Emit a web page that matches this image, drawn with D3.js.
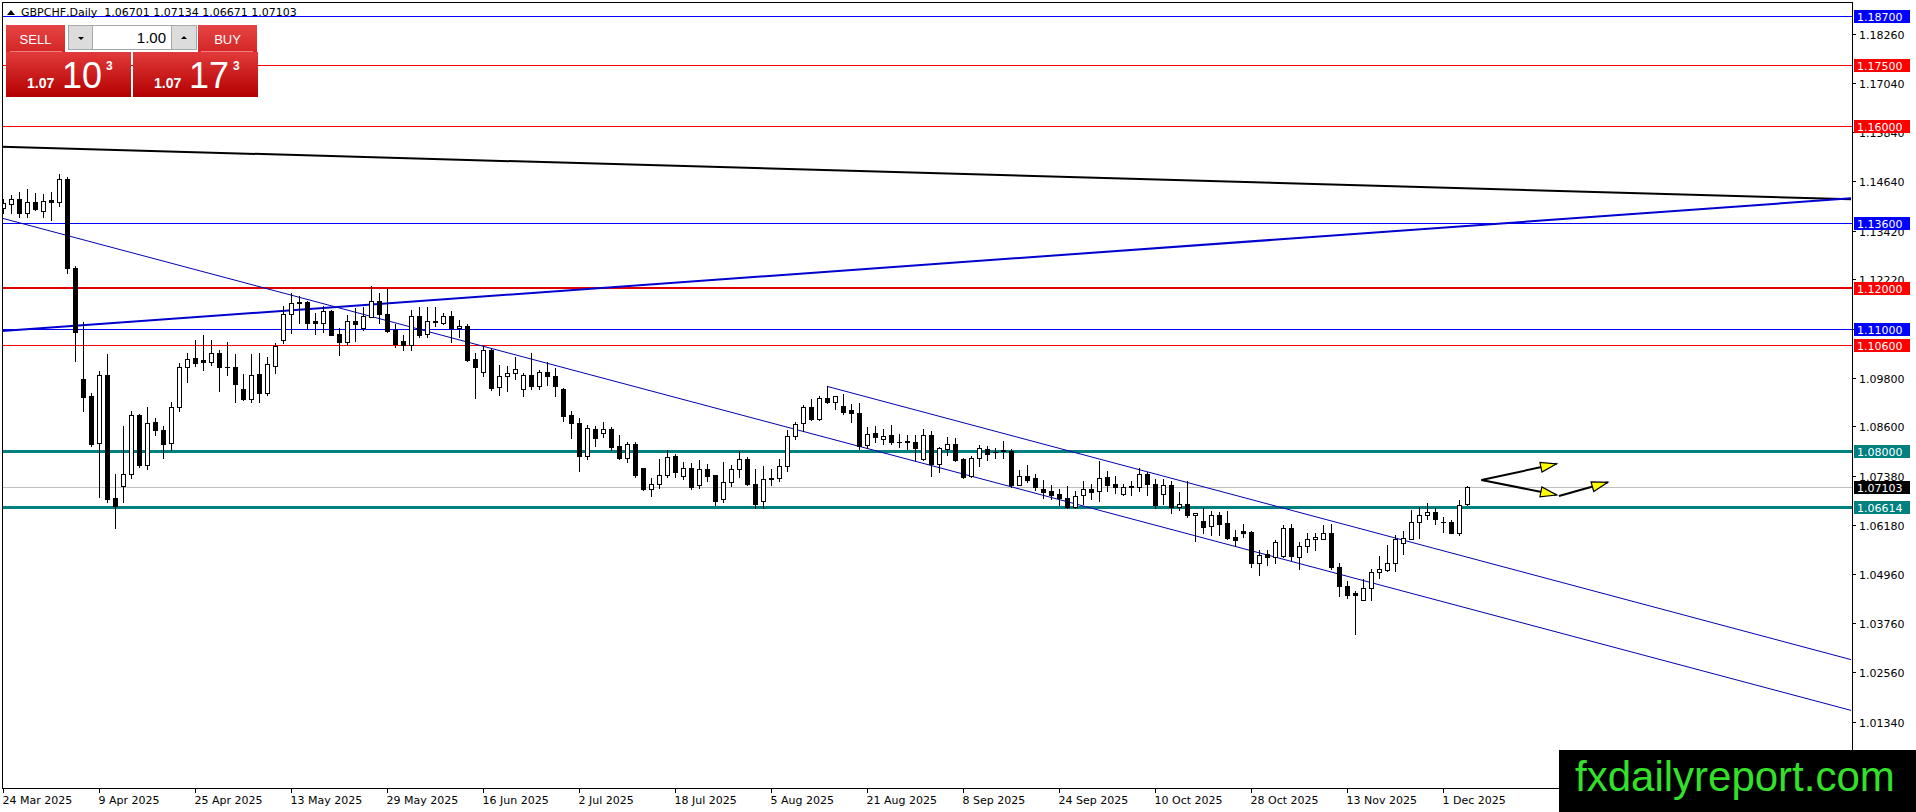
<!DOCTYPE html>
<html><head><meta charset="utf-8">
<script src="https://cdn.jsdelivr.net/npm/d3@7"></script>
<style>html,body{margin:0;padding:0;background:#fff;overflow:hidden}svg{display:block}</style>
</head><body>
<svg id="c" width="1916" height="812"></svg>
<script>
// ---------------- DATA ----------------
const symbolTitle = "GBPCHF,Daily";
const startDate = "2025-03-24";
const opens = [1.1398,1.1407,1.1419,1.1385,1.1413,1.1391,1.1417,1.1413,1.1468,1.1249,
1.0976,1.0935,1.0819,1.0987,1.0683,1.0714,1.0742,1.0887,1.0764,1.0870,
1.0851,1.0819,1.0909,1.1006,1.1028,1.1024,1.1018,1.1040,1.1007,1.1007,
1.0953,1.0927,1.0988,1.0943,1.1010,1.1073,1.1137,1.1166,1.1166,1.1119,
1.1114,1.1144,1.1088,1.1069,1.1120,1.1102,1.1130,1.1168,1.1137,1.1097,
1.1070,1.1061,1.1132,1.1088,1.1120,1.1114,1.1132,1.1102,1.1106,1.1026,
1.0995,1.1047,1.0956,1.0984,1.0991,1.0951,1.0986,1.0960,1.0993,1.0983,
1.0953,1.0888,1.0868,1.0788,1.0853,1.0844,1.0853,1.0811,1.0783,1.0818,
1.0757,1.0705,1.0719,1.0740,1.0787,1.0737,1.0759,1.0715,1.0755,1.0740,
1.0681,1.0724,1.0755,1.0780,1.0719,1.0676,1.0730,1.0732,1.0762,1.0837,
1.0868,1.0907,1.0879,1.0929,1.0919,1.0910,1.0900,1.0892,1.0815,1.0843,
1.0829,1.0838,1.0822,1.0823,1.0822,1.0779,1.0838,1.0768,1.0804,1.0817,
1.0779,1.0737,1.0782,1.0804,1.0798,1.0801,1.0800,1.0717,1.0739,1.0733,
1.0707,1.0700,1.0694,1.0685,1.0661,1.0692,1.0705,1.0701,1.0736,1.0719,
1.0694,1.0713,1.0711,1.0744,1.0719,1.0694,1.0716,1.0661,1.0670,1.0642,
1.0627,1.0615,1.0641,1.0623,1.0588,1.0602,1.0600,1.0524,1.0545,1.0538,
1.0542,1.0611,1.0540,1.0565,1.0582,1.0584,1.0599,1.0515,1.0467,1.0450,
1.0433,1.0463,1.0502,1.0507,1.0524,1.0574,1.0584,1.0626,1.0642,1.0649,
1.0626,1.0626,1.0599,1.06701];
const highs = [1.1420,1.1430,1.1438,1.1444,1.1435,1.1432,1.1438,1.1481,1.1473,1.1255,
1.1118,1.0942,1.0997,1.1038,1.0743,1.0861,1.0899,1.0890,1.0907,1.0882,
1.0862,1.0921,1.1015,1.1040,1.1073,1.1085,1.1073,1.1048,1.1069,1.1038,
1.0989,1.1038,1.1040,1.1030,1.1066,1.1156,1.1188,1.1181,1.1168,1.1140,
1.1156,1.1147,1.1102,1.1134,1.1151,1.1155,1.1206,1.1189,1.1199,1.1112,
1.1085,1.1147,1.1153,1.1153,1.1153,1.1138,1.1143,1.1122,1.1112,1.1040,
1.1058,1.1052,1.1011,1.1009,1.1032,1.0992,1.1041,1.1000,1.1018,1.1005,
1.0954,1.0897,1.0880,1.0864,1.0861,1.0872,1.0859,1.0838,1.0822,1.0822,
1.0759,1.0734,1.0780,1.0803,1.0793,1.0772,1.0769,1.0778,1.0767,1.0741,
1.0772,1.0766,1.0799,1.0784,1.0755,1.0763,1.0755,1.0780,1.0851,1.0872,
1.0913,1.0927,1.0935,1.0959,1.0936,1.0939,1.0915,1.0917,1.0859,1.0860,
1.0854,1.0863,1.0842,1.0838,1.0838,1.0854,1.0848,1.0810,1.0835,1.0832,
1.0782,1.0788,1.0815,1.0813,1.0807,1.0825,1.0804,1.0754,1.0764,1.0743,
1.0729,1.0715,1.0707,1.0713,1.0701,1.0726,1.0719,1.0776,1.0751,1.0738,
1.0719,1.0726,1.0757,1.0747,1.0730,1.0730,1.0727,1.0699,1.0727,1.0648,
1.0659,1.0651,1.0649,1.0651,1.0605,1.0619,1.0602,1.0557,1.0555,1.0580,
1.0617,1.0621,1.0575,1.0599,1.0599,1.0617,1.0621,1.0525,1.0479,1.0454,
1.0485,1.0510,1.0542,1.0569,1.0592,1.0602,1.0655,1.0661,1.0671,1.0659,
1.0636,1.0630,1.0680,1.07134];
const lows = [1.1385,1.1385,1.1376,1.1375,1.1393,1.1375,1.1368,1.1403,1.1237,1.1020,
1.0899,1.0812,1.0687,1.0675,1.0611,1.0675,1.0732,1.0760,1.0755,1.0839,
1.0782,1.0802,1.0899,1.0970,1.1009,1.0999,1.1011,1.0948,1.0987,1.0919,
1.0924,1.0919,1.0919,1.0937,1.0992,1.1065,1.1089,1.1114,1.1099,1.1088,
1.1093,1.1084,1.1036,1.1061,1.1071,1.1097,1.1129,1.1115,1.1093,1.1056,
1.1047,1.1047,1.1081,1.1081,1.1106,1.1112,1.1069,1.1079,1.1022,1.0929,
1.0983,1.0950,1.0937,1.0948,1.0978,1.0935,1.0953,1.0951,1.0961,1.0936,
1.0874,1.0832,1.0751,1.0780,1.0811,1.0834,1.0801,1.0780,1.0772,1.0736,
1.0704,1.0688,1.0709,1.0736,1.0736,1.0730,1.0707,1.0709,1.0726,1.0667,
1.0674,1.0713,1.0736,1.0716,1.0659,1.0659,1.0717,1.0726,1.0751,1.0830,
1.0850,1.0875,1.0877,1.0917,1.0904,1.0890,1.0871,1.0804,1.0807,1.0821,
1.0818,1.0818,1.0810,1.0804,1.0777,1.0777,1.0737,1.0748,1.0790,1.0776,
1.0733,1.0735,1.0762,1.0777,1.0783,1.0783,1.0712,1.0715,1.0723,1.0704,
1.0685,1.0681,1.0666,1.0659,1.0659,1.0669,1.0682,1.0676,1.0701,1.0697,
1.0691,1.0691,1.0702,1.0692,1.0659,1.0669,1.0646,1.0655,1.0638,1.0578,
1.0599,1.0594,1.0592,1.0584,1.0567,1.0588,1.0515,1.0494,1.0519,1.0524,
1.0540,1.0532,1.0510,1.0552,1.0555,1.0582,1.0510,1.0442,1.0438,1.0350,
1.0433,1.0432,1.0488,1.0504,1.0504,1.0546,1.0584,1.0585,1.0632,1.0621,
1.0600,1.0598,1.0592,1.06671];
const closes = [1.1409,1.1419,1.1385,1.1413,1.1394,1.1416,1.1412,1.1468,1.1249,1.1093,
1.0933,1.0817,1.0987,1.0682,1.0665,1.0743,1.0887,1.0764,1.0868,1.0851,
1.0817,1.0909,1.1006,1.1027,1.1015,1.1018,1.1040,1.1006,1.1006,1.0965,
1.0927,1.0986,1.0943,1.1013,1.1058,1.1137,1.1163,1.1163,1.1115,1.1115,
1.1144,1.1085,1.1069,1.1120,1.1111,1.1132,1.1168,1.1137,1.1096,1.1063,
1.1061,1.1132,1.1085,1.1120,1.1117,1.1132,1.1102,1.1107,1.1024,1.1007,
1.1047,1.0954,1.0984,1.0991,1.1001,1.0987,1.0960,1.0993,1.0983,1.0960,
1.0886,1.0869,1.0788,1.0855,1.0832,1.0853,1.0809,1.0783,1.0818,1.0741,
1.0705,1.0719,1.0740,1.0786,1.0748,1.0757,1.0712,1.0755,1.0738,1.0677,
1.0724,1.0755,1.0780,1.0719,1.0669,1.0730,1.0734,1.0762,1.0837,1.0867,
1.0907,1.0879,1.0929,1.0919,1.0935,1.0896,1.0892,1.0813,1.0842,1.0835,
1.0837,1.0821,1.0821,1.0822,1.0807,1.0838,1.0768,1.0807,1.0817,1.0777,
1.0735,1.0783,1.0807,1.0793,1.0796,1.0799,1.0715,1.0739,1.0729,1.0710,
1.0698,1.0692,1.0683,1.0661,1.0688,1.0705,1.0699,1.0734,1.0717,1.0712,
1.0712,1.0711,1.0742,1.0719,1.0667,1.0716,1.0661,1.0670,1.0642,1.0648,
1.0613,1.0641,1.0621,1.0585,1.0581,1.0599,1.0524,1.0544,1.0538,1.0575,
1.0611,1.0542,1.0565,1.0582,1.0587,1.0599,1.0513,1.0467,1.0446,1.0446,
1.0463,1.0502,1.0509,1.0524,1.0582,1.0585,1.0626,1.0642,1.0649,1.0632,
1.0626,1.0599,1.0667,1.07103];

const yTickValues = [1.18260,1.17040,1.15840,1.14640,1.13420,1.12220,1.11000,1.09800,1.08600,1.07380,1.06180,1.04960,1.03760,1.02560,1.01340];
const blueLevels = [1.18700,1.13600,1.11000];
const redLevels = [1.17500,1.16000,1.12000,1.10600];
const tealLevels = [1.08000,1.06614];
const bidPrice = 1.07103;
// trend lines as [barIndex, price] anchor pairs
const blackTrend = [[-0.4,1.15486],[231,1.14190]];
const blueTrend = [[-0.4,1.10944],[231,1.14214]];
const channelLower = [[-0.4,1.13740],[231,1.01614]];
const channelUpper = [[103,1.09587],[231,1.02863]];
// forecast arrows [barIndex, price]
const arrowUp = [[184.8,1.07283],[194.2,1.07680]];
const arrowDown = [[184.8,1.07283],[194.2,1.06914]];
const arrowUp2 = [[194.5,1.06889],[200.6,1.07226]];
const headerValues = ["1.06701","1.07134","1.06671","1.07103"];
const lotSize = "1.00";
const sellQuote = ["1.07","10","3"];
const buyQuote = ["1.07","17","3"];
const watermark = "fxdailyreport.com";

// ---------------- SCALES ----------------
const W = 1916, H = 812;
const plotL = 2, plotT = 2, plotR = 1852, plotB = 788;
const x = d3.scaleLinear().domain([0, 231]).range([3, 1851]);
const y = d3.scaleLinear().domain([1.190937, 0.997038]).range([0, 788]);

// dates (weekday trading bars)
const parse = d3.timeParse("%Y-%m-%d");
const dates = [];
{ let d = parse(startDate); while (dates.length < closes.length) { const wd = d.getDay(); if (wd !== 0 && wd !== 6) dates.push(new Date(d)); d = d3.timeDay.offset(d, 1); } }
const fmt = d3.timeFormat("%-d %b %Y");

const svg = d3.select("#c");
const FONT = "'DejaVu Sans', Tahoma, sans-serif";
const SANS = "'Liberation Sans', Arial, sans-serif";
svg.append("rect").attr("width", W).attr("height", H).attr("fill", "#fff");

const defs = svg.append("defs");
defs.append("clipPath").attr("id","plot").append("rect").attr("x",plotL).attr("y",plotT).attr("width",plotR-plotL).attr("height",plotB-plotT);
const gr = defs.append("linearGradient").attr("id","redG").attr("x1",0).attr("y1",0).attr("x2",0).attr("y2",1);
gr.append("stop").attr("offset","0%").attr("stop-color","#e23a3a");
gr.append("stop").attr("offset","100%").attr("stop-color","#b30000");
const gb = defs.append("linearGradient").attr("id","btnG").attr("x1",0).attr("y1",0).attr("x2",0).attr("y2",1);
gb.append("stop").attr("offset","0%").attr("stop-color","#e64545");
gb.append("stop").attr("offset","100%").attr("stop-color","#d42525");

const plot = svg.append("g").attr("clip-path","url(#plot)");
const cy = v => Math.round(y(v)) + 0.5;

// horizontal levels
function hline(p, color, w) {
  const yy = w % 2 ? cy(p) : Math.round(y(p));
  plot.append("line").attr("x1",plotL).attr("x2",plotR).attr("y1", yy).attr("y2", yy)
    .attr("stroke",color).attr("stroke-width",w);
}
hline(bidPrice, "#c0c0c0", 1);
blueLevels.forEach(p => hline(p, "#0000ff", 1));
redLevels.forEach(p => hline(p, p === 1.12 ? "#e00000" : "#ff0000", p === 1.12 ? 2 : 1));
tealLevels.forEach(p => hline(p, "#008080", 3));

// trend lines
const lineGen = d3.line().x(d => x(d[0])).y(d => y(d[1]));
plot.append("path").attr("d", lineGen(blackTrend)).attr("stroke","#000").attr("stroke-width",2).attr("fill","none");
plot.append("path").attr("d", lineGen(blueTrend)).attr("stroke","#0000d0").attr("stroke-width",2).attr("fill","none");
plot.append("path").attr("d", lineGen(channelLower)).attr("stroke","#0000b0").attr("stroke-width",1).attr("fill","none");
plot.append("path").attr("d", lineGen(channelUpper)).attr("stroke","#0000b0").attr("stroke-width",1).attr("fill","none");

// candles
const bars = closes.map((c, i) => ({i, o: opens[i], h: highs[i], l: lows[i], c}));
const cg = plot.append("g");
bars.forEach(b => {
  const cx = Math.round(x(b.i)) + 0.5;
  cg.append("line").attr("x1",cx).attr("x2",cx).attr("y1",Math.round(y(b.h))).attr("y2",Math.round(y(b.l))+1).attr("stroke","#000").attr("stroke-width",1);
  const top = Math.round(y(Math.max(b.o,b.c))), bot = Math.round(y(Math.min(b.o,b.c)));
  const up = b.c >= b.o;
  cg.append("rect").attr("x",cx-2).attr("y",top+0.5).attr("width",4).attr("height",Math.max(bot-top,0.01))
    .attr("fill", up ? "#fff" : "#000").attr("stroke","#000").attr("stroke-width",1);
});

// arrows
function arrow(seg) {
  const p0 = [x(seg[0][0]), y(seg[0][1])], p1 = [x(seg[1][0]), y(seg[1][1])];
  plot.append("line").attr("x1",p0[0]).attr("y1",p0[1]).attr("x2",p1[0]).attr("y2",p1[1]).attr("stroke","#000").attr("stroke-width",2);
  const dx = p1[0]-p0[0], dy = p1[1]-p0[1], L = Math.hypot(dx,dy), ux = dx/L, uy = dy/L;
  const bx = p1[0]-ux*16, by = p1[1]-uy*16, nx = -uy, ny = ux;
  plot.append("path").attr("d", `M${p1[0]},${p1[1]}L${bx+nx*5},${by+ny*5}L${bx-nx*5},${by-ny*5}Z`)
    .attr("fill","#ffff00").attr("stroke","#000").attr("stroke-width",1.2).attr("stroke-linejoin","miter");
}
arrow(arrowUp); arrow(arrowDown); arrow(arrowUp2);

// frame
svg.append("rect").attr("x",plotL+0.5).attr("y",plotT+0.5).attr("width",plotR-plotL).attr("height",plotB-plotT)
  .attr("fill","none").attr("stroke","#000").attr("stroke-width",1);

// right axis ticks
const ax = svg.append("g").attr("font-family",FONT).attr("font-size",11);
yTickValues.forEach(v => {
  const yy = cy(v);
  ax.append("line").attr("x1",plotR).attr("x2",plotR+4).attr("y1",yy).attr("y2",yy).attr("stroke","#000");
  ax.append("text").attr("x",plotR+7).attr("y",yy+4).attr("fill","#000").text(v.toFixed(5));
});
// price labels
function plabel(p, bg, txt) {
  const yy = Math.round(y(p));
  ax.append("rect").attr("x",plotR+2).attr("y",yy-6).attr("width",56).attr("height",13).attr("fill",bg);
  ax.append("text").attr("x",plotR+5).attr("y",yy+4.5).attr("fill","#fff").text(txt);
}
blueLevels.forEach(p => plabel(p, "#0000ff", p.toFixed(5)));
redLevels.forEach(p => plabel(p, "#ff0000", p.toFixed(5)));
tealLevels.forEach(p => plabel(p, "#008080", p.toFixed(5)));
plabel(bidPrice, "#000", bidPrice.toFixed(5));

// bottom axis
const bxg = svg.append("g").attr("font-family",FONT).attr("font-size",11);
dates.forEach((d, i) => {
  if (i % 12 !== 0) return;
  const xx = Math.round(x(i)) + 0.5;
  bxg.append("line").attr("x1",xx).attr("x2",xx).attr("y1",plotB).attr("y2",plotB+5).attr("stroke","#000");
  bxg.append("text").attr("x",xx-1).attr("y",plotB+16).attr("fill","#000").text(fmt(d));
});

// header
const hd = svg.append("g").attr("font-family",FONT).attr("font-size",11);
hd.append("path").attr("d","M7,15L11,10L15,15Z").attr("fill","#000");
hd.append("text").attr("x",21).attr("y",16).attr("fill","#000").attr("xml:space","preserve")
  .text(symbolTitle + "  " + headerValues.join(" "));

// one-click trading panel
const pn = svg.append("g").attr("font-family",SANS);
pn.append("rect").attr("x",6).attr("y",25).attr("width",59).attr("height",27).attr("fill","url(#btnG)");
pn.append("rect").attr("x",198).attr("y",25).attr("width",59).attr("height",27).attr("fill","url(#btnG)");
pn.append("line").attr("x1",10).attr("x2",62).attr("y1",51.5).attr("y2",51.5).attr("stroke","#f08080");
pn.append("line").attr("x1",201).attr("x2",253).attr("y1",51.5).attr("y2",51.5).attr("stroke","#f08080");
pn.append("text").attr("x",35.5).attr("y",44).attr("text-anchor","middle").attr("fill","#fff").attr("font-size",13).text("SELL");
pn.append("text").attr("x",227.5).attr("y",44).attr("text-anchor","middle").attr("fill","#fff").attr("font-size",13).text("BUY");
pn.append("rect").attr("x",68.5).attr("y",25.5).attr("width",128).attr("height",24).attr("fill","#fff").attr("stroke","#a8a8a8");
pn.append("rect").attr("x",68.5).attr("y",25.5).attr("width",24).attr("height",24).attr("fill","#dcdcdc").attr("stroke","#a8a8a8");
pn.append("rect").attr("x",171.5).attr("y",25.5).attr("width",25).attr("height",24).attr("fill","#dcdcdc").attr("stroke","#a8a8a8");
pn.append("path").attr("d","M78,37L84,37L81,40Z").attr("fill","#000");
pn.append("path").attr("d","M181,39L187,39L184,36Z").attr("fill","#000");
pn.append("text").attr("x",166).attr("y",43).attr("text-anchor","end").attr("fill","#000").attr("font-size",15).text(lotSize);
function quote(x0, q) {
  pn.append("rect").attr("x",x0).attr("y",52).attr("width",125).attr("height",45).attr("fill","url(#redG)");
  pn.append("text").attr("x",x0+21).attr("y",88).attr("fill","#fff").attr("font-size",14).attr("font-weight","bold").text(q[0]);
  pn.append("text").attr("x",x0+56).attr("y",88).attr("fill","#fff").attr("font-size",36).text(q[1]);
  pn.append("text").attr("x",x0+100).attr("y",70).attr("fill","#fff").attr("font-size",12).attr("font-weight","bold").text(q[2]);
}
quote(6, sellQuote);
quote(133, buyQuote);

// watermark
svg.append("rect").attr("x",1559).attr("y",750).attr("width",W-1559).attr("height",H-750).attr("fill","#000");
svg.append("text").attr("x",1575).attr("y",791).attr("font-family",SANS)
  .attr("font-size",42).attr("fill","#33e02a").text(watermark);
</script>
</body></html>
